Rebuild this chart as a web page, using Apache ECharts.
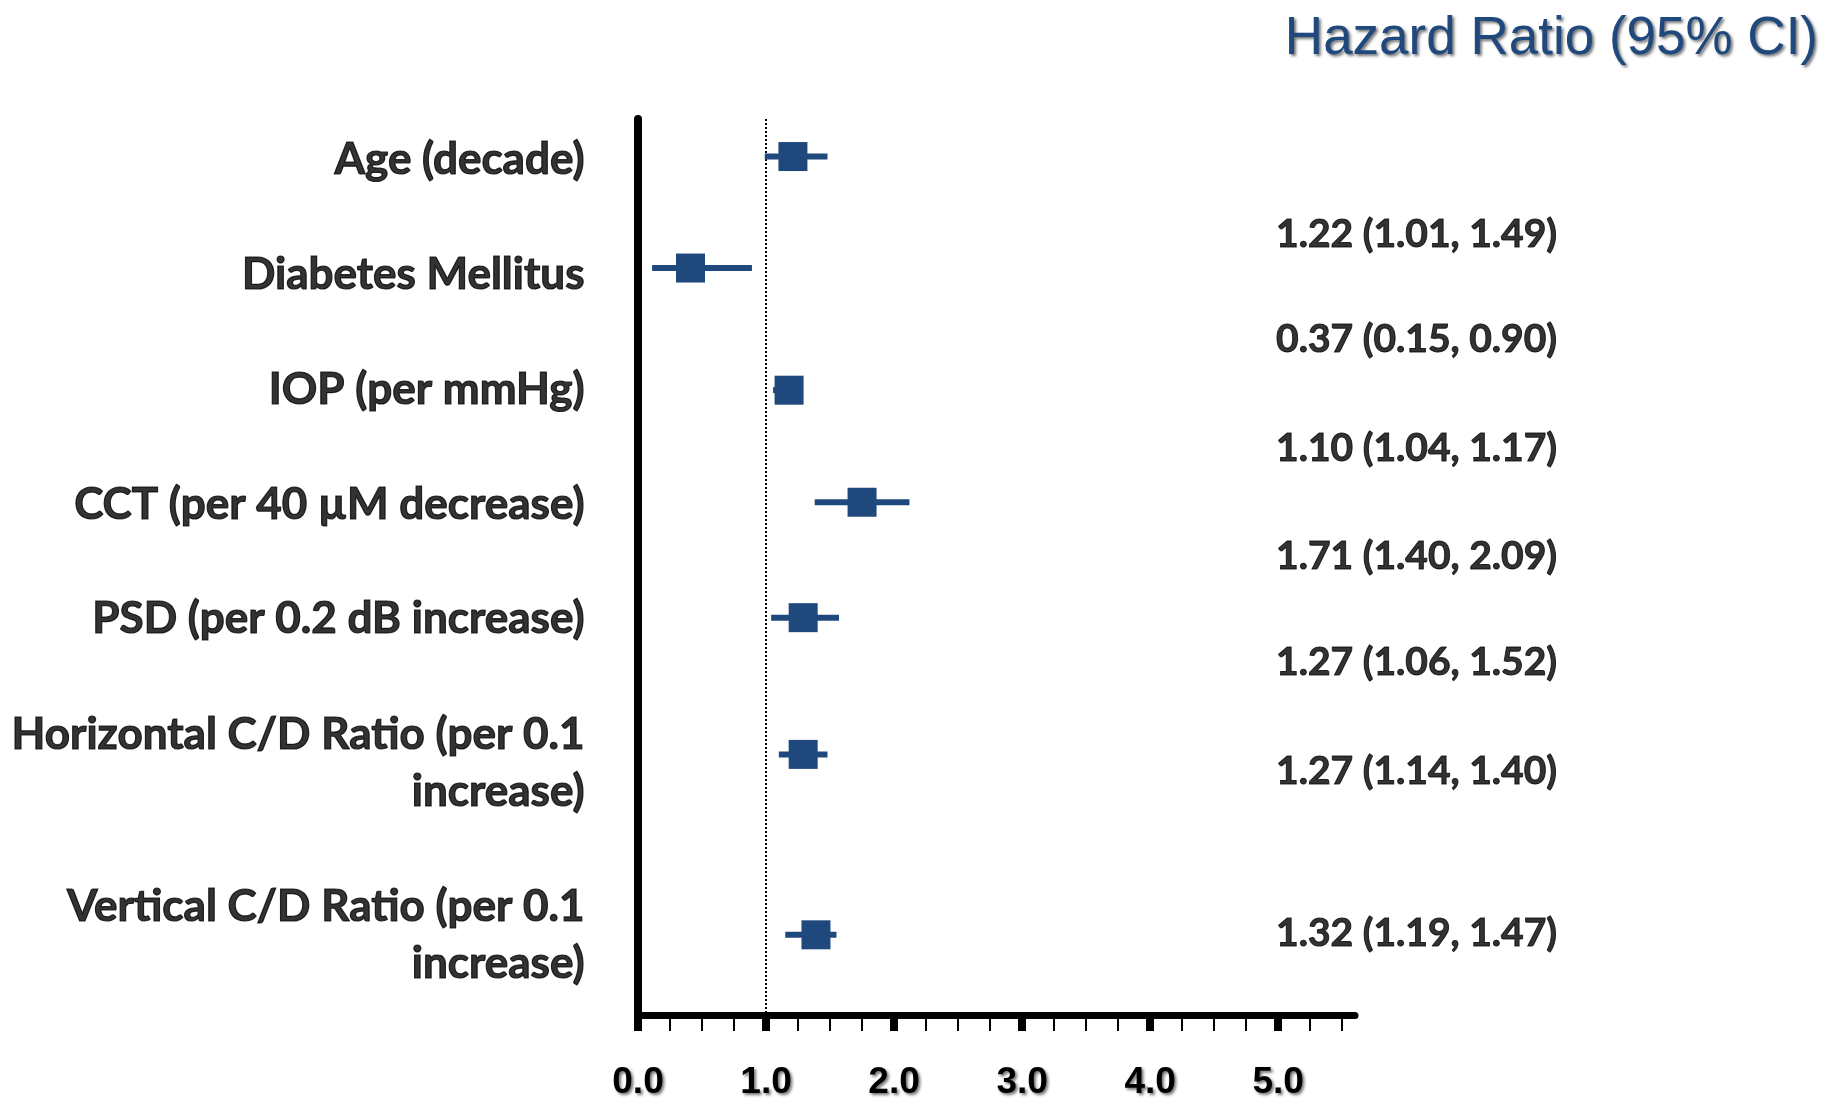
<!DOCTYPE html>
<html>
<head>
<meta charset="utf-8">
<title>Hazard Ratio (95% CI)</title>
<script src="https://cdn.jsdelivr.net/npm/echarts@6/dist/echarts.min.js"></script>
<style>
  html, body { margin: 0; padding: 0; background: #fff; }
  #chart { width: 1827px; height: 1101px; }
</style>
</head>
<body>
<div id="chart"></div>
<script>
// row names on the left
const factorNames = [
  "Age (decade)",
  "Diabetes Mellitus",
  "IOP (per mmHg)",
  "CCT (per 40 \u00b5M decrease)",
  "PSD (per 0.2 dB increase)",
  "Horizontal C/D Ratio (per 0.1\nincrease)",
  "Vertical C/D Ratio (per 0.1\nincrease)"
];
// drawn estimates
const hazardRatio = [1.21, 0.41, 1.18, 1.75, 1.29, 1.29, 1.39];
const ciLower = [0.99, 0.11, 1.055, 1.38, 1.04, 1.10, 1.15];
const ciUpper = [1.48, 0.89, 1.28, 2.12, 1.57, 1.48, 1.55];
// vertical place of each row (0 = top of plot, 8 = x axis)
const markRows = [0.335, 1.33, 2.42, 3.42, 4.45, 5.67, 7.28];
const nameRows = [0.36, 1.39, 2.42, 3.44, 4.46, 5.75, 7.28];
// text column on the right
const statTexts = [
  "1.22 (1.01, 1.49)",
  "0.37 (0.15, 0.90)",
  "1.10 (1.04, 1.17)",
  "1.71 (1.40, 2.09)",
  "1.27 (1.06, 1.52)",
  "1.27 (1.14, 1.40)",
  "1.32 (1.19, 1.47)"
];
const statRows = [1.03, 1.97, 2.94, 3.90, 4.85, 5.82, 7.27];
// x axis ticks
const majorTicks = [0, 1, 2, 3, 4, 5];
const minorTicks = [0.25, 0.5, 0.75, 1.25, 1.5, 1.75, 2.25, 2.5, 2.75, 3.25, 3.5, 3.75,
  4.25, 4.5, 4.75, 5.25, 5.5];

const markColor = "#1F497D";
const statColumnX = 4.98;

const chart = echarts.init(document.getElementById("chart"));

const forestData = hazardRatio.map((hr, i) => [hr, markRows[i], ciLower[i], ciUpper[i]]);
const nameData = factorNames.map((name, i) => ({ value: [0, nameRows[i]], name: name }));
const statData = statTexts.map((txt, i) => ({ value: [statColumnX, statRows[i]], name: txt }));

const shadowText = {
  textShadowColor: "rgba(0,0,0,0.55)",
  textShadowBlur: 3,
  textShadowOffsetX: 2,
  textShadowOffsetY: 2
};

const option = {
  animation: false,
  backgroundColor: "#fff",
  title: {
    text: "Hazard Ratio (95% CI)",
    right: 4,
    top: 8,
    textStyle: Object.assign({
      fontFamily: "Liberation Sans",
      fontWeight: "normal",
      fontSize: 53,
      color: markColor
    }, shadowText)
  },
  grid: {
    left: 638,
    right: 472,
    top: 119,
    bottom: 85.5,
    outerBoundsMode: "none"
  },
  xAxis: [
    {
      type: "value",
      min: 0,
      max: 5.6,
      position: "bottom",
      axisLine: { show: true, onZero: false, lineStyle: { color: "#000", width: 7 } },
      axisTick: {
        show: true,
        length: 15.5,
        customValues: majorTicks,
        lineStyle: { color: "#000", width: 8 }
      },
      axisLabel: Object.assign({
        customValues: majorTicks,
        formatter: (v) => Number(v).toFixed(1),
        margin: 47,
        fontFamily: "Liberation Sans",
        fontWeight: "bold",
        fontSize: 37,
        lineHeight: 40,
        color: "#000"
      }, shadowText),
      splitLine: { show: false }
    },
    {
      // minor ticks only
      type: "value",
      min: 0,
      max: 5.6,
      position: "bottom",
      axisLine: { show: false, onZero: false },
      axisTick: {
        show: true,
        length: 15.5,
        customValues: minorTicks,
        lineStyle: { color: "#000", width: 2 }
      },
      axisLabel: { show: false },
      splitLine: { show: false }
    }
  ],
  yAxis: {
    type: "value",
    min: 0,
    max: 8,
    inverse: true,
    axisLine: { show: true, onZero: false, lineStyle: { color: "#000", width: 8 } },
    axisTick: { show: false },
    axisLabel: { show: false },
    splitLine: { show: false }
  },
  series: [
    {
      // reference line at HR = 1
      type: "line",
      data: [],
      silent: true,
      markLine: {
        silent: true,
        symbol: "none",
        label: { show: false },
        lineStyle: { color: "#000", width: 2, type: [2, 2] },
        data: [{ xAxis: 1 }]
      }
    },
    {
      type: "custom",
      data: forestData,
      z: 5,
      renderItem: (params, api) => {
        const y = api.value(1);
        const c = api.coord([api.value(0), y]);
        const l = api.coord([api.value(2), y]);
        const h = api.coord([api.value(3), y]);
        const half = 14.5;
        return {
          type: "group",
          children: [
            {
              type: "rect",
              shape: { x: l[0], y: c[1] - 3, width: h[0] - l[0], height: 6 },
              style: { fill: markColor }
            },
            {
              type: "rect",
              shape: { x: c[0] - half, y: c[1] - half, width: half * 2, height: half * 2 },
              style: { fill: markColor }
            }
          ]
        };
      }
    },
    {
      // factor names left of the axis
      type: "scatter",
      data: nameData,
      symbolSize: 1,
      silent: true,
      itemStyle: { color: "transparent" },
      label: {
        show: true,
        position: "left",
        distance: 53,
        align: "right",
        verticalAlign: "middle",
        formatter: (p) => p.name,
        fontFamily: "Lato",
        fontWeight: "bold",
        fontSize: 44,
        lineHeight: 57,
        color: "#000",
        textBorderColor: "#000",
        textBorderWidth: 1.2
      }
    },
    {
      // HR (95% CI) text column
      type: "scatter",
      data: statData,
      symbolSize: 1,
      silent: true,
      itemStyle: { color: "transparent" },
      label: {
        show: true,
        position: "right",
        distance: 0,
        formatter: (p) => p.name,
        fontFamily: "Lato",
        fontWeight: "bold",
        fontSize: 39,
        color: "#000",
        textBorderColor: "#000",
        textBorderWidth: 1
      }
    }
  ]
};

chart.setOption(option);
window.addEventListener("resize", () => chart.resize());
</script>
</body>
</html>
